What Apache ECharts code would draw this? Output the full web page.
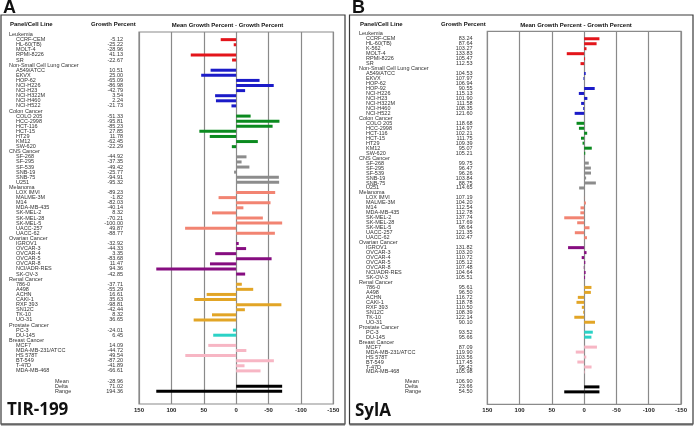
<!DOCTYPE html>
<html>
<head>
    <meta charset="utf-8">
    <title>TIR-199 / SylA mean graph</title>
    <script src="https://cdn.jsdelivr.net/npm/echarts@6/dist/echarts.min.js"></script>
    <style>
        html, body { margin: 0; padding: 0; background: #fff; }
        #main { width: 696px; height: 427px; }
    </style>
</head>
<body>

<div id="main"></div>

<script type="text/javascript">

    // panels (tumour types), same order in both graphs
    var panels = ['Leukemia', 'Non-Small Cell Lung Cancer', 'Colon Cancer', 'CNS Cancer', 'Melanoma',
        'Ovarian Cancer', 'Renal Cancer', 'Prostate Cancer', 'Breast Cancer'];

    // A: TIR-199
    var cellsA = [
        ['CCRF-CEM', 'HL-60(TB)', 'MOLT-4', 'RPMI-8226', 'SR'],
        ['A549/ATCC', 'EKVX', 'HOP-62', 'NCI-H226', 'NCI-H23', 'NCI-H322M', 'NCI-H460', 'NCI-H522'],
        ['COLO 205', 'HCC-2998', 'HCT-116', 'HCT-15', 'HT29', 'KM12', 'SW-620'],
        ['SF-268', 'SF-295', 'SF-539', 'SNB-19', 'SNB-75', 'U251'],
        ['LOX IMVI', 'MALME-3M', 'M14', 'MDA-MB-435', 'SK-MEL-2', 'SK-MEL-28', 'SK-MEL-5', 'UACC-257', 'UACC-62'],
        ['IGROV1', 'OVCAR-3', 'OVCAR-4', 'OVCAR-5', 'OVCAR-8', 'NCI/ADR-RES', 'SK-OV-3'],
        ['786-0', 'A498', 'ACHN', 'CAKI-1', 'RXF 393', 'SN12C', 'TK-10', 'UO-31'],
        ['PC-3', 'DU-145'],
        ['MCF7', 'MDA-MB-231/ATCC', 'HS 578T', 'BT-549', 'T-47D', 'MDA-MB-468']
    ];
    var growthA = [
        [-5.12, -25.22, -28.96, 41.13, -22.67],
        [10.51, 25.00, -65.09, -86.98, -42.79, 3.54, 2.24, -21.73],
        [-51.33, -95.81, -85.23, 27.85, 11.78, -62.45, -22.29],
        [-44.92, -37.35, -49.42, -25.77, -94.91, -95.32],
        [-89.23, -1.82, -82.03, -40.14, 8.32, -70.21, -100.00, 49.87, -88.77],
        [-32.92, -44.33, 3.35, -83.68, 11.47, 94.36, -42.85],
        [-37.71, -55.29, 16.61, 35.63, -98.81, -42.44, 8.32, 36.65],
        [-24.01, 6.45],
        [14.09, -44.72, 49.54, -87.20, -41.89, -66.61]
    ];
    var summaryA = [-28.96, 71.02, 194.36];   // mean, delta, range

    // B: SylA
    var cellsB = [
        ['CCRF-CEM', 'HL-60(TB)', 'K-562', 'MOLT-4', 'RPMI-8226', 'SR'],
        ['A549/ATCC', 'EKVX', 'HOP-62', 'HOP-92', 'NCI-H226', 'NCI-H23', 'NCI-H322M', 'NCI-H460', 'NCI-H522'],
        ['COLO 205', 'HCC-2998', 'HCT-116', 'HCT-15', 'HT29', 'KM12', 'SW-620'],
        ['SF-268', 'SF-295', 'SF-539', 'SNB-19', 'SNB-75', 'U251'],
        ['LOX IMVI', 'MALME-3M', 'M14', 'MDA-MB-435', 'SK-MEL-2', 'SK-MEL-28', 'SK-MEL-5', 'UACC-257', 'UACC-62'],
        ['IGROV1', 'OVCAR-3', 'OVCAR-4', 'OVCAR-5', 'OVCAR-8', 'NCI/ADR-RES', 'SK-OV-3'],
        ['786-0', 'A498', 'ACHN', 'CAKI-1', 'RXF 393', 'SN12C', 'TK-10', 'UO-31'],
        ['PC-3', 'DU-145'],
        ['MCF7', 'MDA-MB-231/ATCC', 'HS 578T', 'BT-549', 'T-47D', 'MDA-MB-468']
    ];
    var growthB = [
        [83.24, 87.64, 103.27, 133.83, 105.47, 112.53],
        [104.53, 107.97, 106.94, 90.55, 115.13, 101.90, 111.58, 108.35, 121.60],
        [118.68, 114.97, 102.21, 111.75, 109.39, 95.07, 105.21],
        [99.75, 96.47, 96.26, 103.84, 88.75, 114.65],
        [107.19, 104.20, 112.54, 112.78, 137.74, 117.69, 98.64, 121.35, 102.47],
        [131.82, 103.20, 110.72, 105.12, 107.48, 104.64, 105.51],
        [95.61, 96.50, 116.72, 118.78, 110.50, 108.39, 122.14, 90.10],
        [93.52, 95.66],
        [87.09, 119.90, 103.56, 117.45, 95.42, 105.98]
    ];
    var summaryB = [106.90, 23.66, 54.50];

    var summaryNames = ['Mean', 'Delta', 'Range'];

    var panelColors = ['#e3151b', '#1b1bc8', '#0b8a1f', '#8c8c8c', '#f28472',
        '#860d80', '#e2a526', '#2bd2c6', '#f7b6c4'];

    var FONT = '"Liberation Sans", Arial, sans-serif';

    // rows: panel header, its cells ..., blank, Mean, Delta, Range, 2 blanks
    function buildRows(cells, growth, summary) {
        var mean = summary[0], delta = summary[1], range = summary[2];
        var rows = {keys: [], names: [], values: [], bars: [], extra: []};

        function push(name, value, bar, extra) {
            rows.keys.push('r' + rows.keys.length);
            rows.names.push(name);
            rows.values.push(value);
            rows.bars.push(bar);
            rows.extra.push(extra);
        }

        cells.forEach(function (list, g) {
            push('{h|' + panels[g] + '}', '', '-', '-');
            list.forEach(function (c, i) {
                var v = growth[g][i];
                push('{i| }{c|' + c + '}', v.toFixed(2),
                    {value: +(v - mean).toFixed(2), itemStyle: {color: panelColors[g]}}, '-');
            });
        });
        push('', '', '-', '-');
        push('{s| }{c|' + summaryNames[0] + '}', mean.toFixed(2), '-', '-');
        push('{s| }{c|' + summaryNames[1] + '}', delta.toFixed(2),
            {value: -delta, itemStyle: {color: '#000'}}, '-');
        push('{s| }{c|' + summaryNames[2] + '}', range.toFixed(2),
            {value: +(range - delta).toFixed(2), itemStyle: {color: '#000'}}, -delta);
        push('', '', '-', '-');
        push('', '', '-', '-');
        return rows;
    }

    var rowsA = buildRows(cellsA, growthA, summaryA);
    var rowsB = buildRows(cellsB, growthB, summaryB);

    function xAxisFor(gridIndex) {
        return {
            gridIndex: gridIndex,
            type: 'value',
            min: -150,
            max: 150,
            interval: 50,
            inverse: true,
            axisLine: {show: false},
            axisTick: {show: false},
            axisLabel: {fontSize: 6, fontWeight: 'bold', color: '#222', margin: 3, fontFamily: FONT},
            splitLine: {lineStyle: {color: '#8a8a8a', width: 1.2}}
        };
    }

    function nameAxis(gridIndex, rows, margin) {
        return {
            gridIndex: gridIndex,
            type: 'category',
            position: 'left',
            inverse: true,
            data: rows.keys,
            axisLine: {show: false},
            axisTick: {show: false},
            splitLine: {show: false},
            axisLabel: {
                interval: 0,
                align: 'left',
                margin: margin,
                fontSize: 5.5,
                color: '#333',
                fontFamily: FONT,
                formatter: function (val, idx) {
                    return rows.names[idx];
                },
                rich: {
                    h: {fontSize: 5.5, color: '#333', fontFamily: FONT},
                    c: {fontSize: 5.5, color: '#333', fontFamily: FONT},
                    i: {width: 7},
                    s: {width: 46}
                }
            }
        };
    }

    function valueAxis(gridIndex, rows, margin) {
        return {
            gridIndex: gridIndex,
            type: 'category',
            position: 'left',
            inverse: true,
            data: rows.keys,
            axisLine: {show: false},
            axisTick: {show: false},
            splitLine: {show: false},
            axisLabel: {
                interval: 0,
                align: 'right',
                margin: margin,
                fontSize: 5.5,
                color: '#333',
                fontFamily: FONT,
                formatter: function (val, idx) {
                    return rows.values[idx];
                }
            }
        };
    }

    function barSeries(xIdx, yIdx, data, stack) {
        return {
            type: 'bar',
            xAxisIndex: xIdx,
            yAxisIndex: yIdx,
            stack: stack,
            barWidth: 3,
            data: data,
            itemStyle: {color: '#000'},
            silent: true
        };
    }

    function headerText(x, y, text, align) {
        return {
            type: 'text',
            silent: true,
            style: {
                text: text, x: x, y: y, align: align || 'left', verticalAlign: 'middle',
                fontSize: 6, fontWeight: 'bold', fontFamily: FONT, fill: '#111'
            }
        };
    }

    function bigText(x, y, text, size, family) {
        return {
            type: 'text',
            silent: true,
            style: {
                text: text, x: x, y: y, align: 'left', verticalAlign: 'middle',
                fontSize: size, fontWeight: 'bold', fontFamily: family, fill: '#111'
            }
        };
    }

    var myChart = echarts.init(document.getElementById('main'), null, {renderer: 'canvas'});

    var option = {
        animation: false,
        backgroundColor: '#fff',
        grid: [
            {left: 139, top: 32, width: 194.3, height: 372, show: true, borderColor: '#8a8a8a', borderWidth: 1.2},
            {left: 487.3, top: 31.3, width: 193.7, height: 373, show: true, borderColor: '#8a8a8a', borderWidth: 1.2}
        ],
        xAxis: [xAxisFor(0), xAxisFor(1)],
        yAxis: [
            nameAxis(0, rowsA, 130),
            valueAxis(0, rowsA, 16),
            nameAxis(1, rowsB, 128.3),
            valueAxis(1, rowsB, 14.8)
        ],
        series: [
            barSeries(0, 0, rowsA.bars, 'a'),
            barSeries(0, 0, rowsA.extra, 'a'),
            barSeries(1, 2, rowsB.bars, 'b'),
            barSeries(1, 2, rowsB.extra, 'b')
        ],
        graphic: [
            // panel frames
            {type: 'rect', silent: true, shape: {x: 1, y: 15, width: 344, height: 409},
                style: {fill: 'none', stroke: '#3a3a3a', lineWidth: 1.2}},
            {type: 'rect', silent: true, shape: {x: 349.5, y: 15, width: 343.5, height: 409},
                style: {fill: 'none', stroke: '#3a3a3a', lineWidth: 1.2}},
            {type: 'line', silent: true, shape: {x1: 1, y1: 424.5, x2: 345, y2: 424.5},
                style: {stroke: '#666', lineWidth: 2.2}},
            {type: 'line', silent: true, shape: {x1: 349.5, y1: 424.5, x2: 693, y2: 424.5},
                style: {stroke: '#666', lineWidth: 2.2}},

            bigText(3, 8, 'A', 18, FONT),
            bigText(352, 8, 'B', 18, FONT),
            bigText(7, 410.5, 'TIR-199', 17, '"Open Sans", ' + FONT),
            bigText(355, 411, 'SylA', 17, '"Open Sans", ' + FONT),

            headerText(10, 24.5, 'Panel/Cell Line'),
            headerText(91, 24.5, 'Growth Percent'),
            headerText(227.5, 25, 'Mean Growth Percent - Growth Percent', 'center'),
            headerText(360, 24.5, 'Panel/Cell Line'),
            headerText(441, 24.5, 'Growth Percent'),
            headerText(576, 25, 'Mean Growth Percent - Growth Percent', 'center')
        ]
    };

    myChart.setOption(option);

</script>
</body>
</html>
